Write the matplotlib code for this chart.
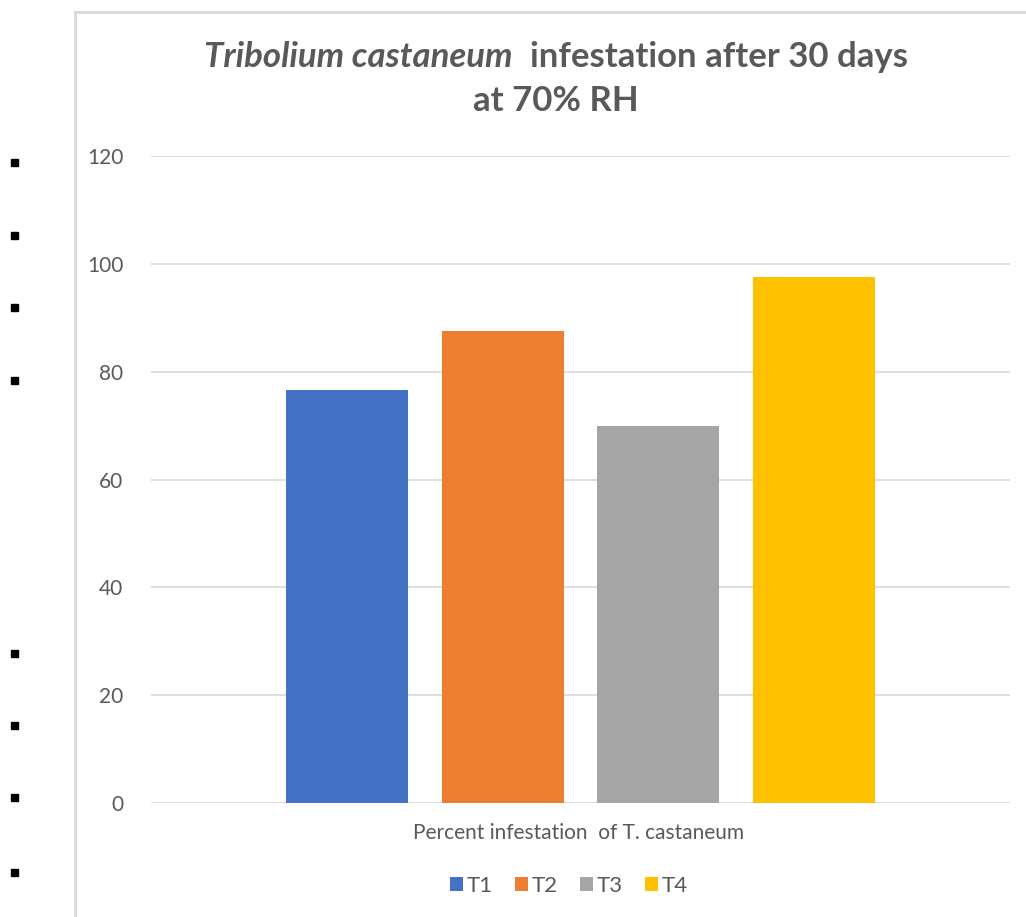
import matplotlib.pyplot as plt
from matplotlib.lines import Line2D
from matplotlib.patches import Rectangle

categories = ["Percent infestation  of T. castaneum"]
series = ["T1", "T2", "T3", "T4"]
values = [76.6, 87.6, 69.9, 97.5]
colors = ["#4472C4", "#ED7D31", "#A5A5A5", "#FFC000"]
yticks = [0, 20, 40, 60, 80, 100, 120]

W, H = 1026, 917
plt.rcParams['font.family'] = ['Lato', 'DejaVu Sans']
fig = plt.figure(figsize=(W / 100, H / 100), dpi=100)

ax = fig.add_axes([151 / W, 1 - 803 / H, (1010 - 151) / W, (803 - 156) / H])
x0 = 0
width = 0.202
for i, (s, v, c) in enumerate(zip(series, values, colors)):
    ax.bar(x0 + (i - 1.5) * 0.257, v, width=width, color=c, label=s, zorder=3)

ax.set_xlim(-0.71, 0.71)
ax.set_ylim(0, 120)
ax.set_yticks(yticks)
ax.set_yticklabels([str(t) for t in yticks], fontsize=15, color="#595959")
ax.tick_params(axis="y", length=0, pad=20)
ax.set_xticks([])
ax.grid(axis="y", color="#d9d9d9", linewidth=1.2, zorder=0)
for sp in ax.spines.values():
    sp.set_visible(False)

# category label under the bars
fig.text(579 / W, 1 - 833 / H, categories[0], ha="center", va="center",
         fontsize=15, color="#595959")

# legend
ax.legend(loc="center", bbox_to_anchor=(569 / W, 1 - 886 / H), bbox_transform=fig.transFigure,
          ncol=4, frameon=False, fontsize=16, handlelength=0.6, handleheight=0.6,
          handletextpad=0.15, columnspacing=1.0, labelcolor="#595959")

# title with italic species name
fig.canvas.draw()
r = fig.canvas.get_renderer()
t1 = fig.text(0, 1 - 57 / H, "Tribolium castaneum", style="italic", fontsize=25,
              weight="bold", color="#595959", va="center", ha="left")
t2 = fig.text(0, 1 - 57 / H, "  infestation after 30 days", fontsize=25,
              weight="bold", color="#595959", va="center", ha="left")
w1 = t1.get_window_extent(r).width
w2 = t2.get_window_extent(r).width
start = 556 - (w1 + w2) / 2
t1.set_x(start / W)
t2.set_x((start + w1) / W)
fig.text(556 / W, 1 - 101 / H, "at 70% RH", fontsize=25, weight="bold",
         color="#595959", ha="center", va="center")

# chart frame (left and top borders)
fig.add_artist(Line2D([75 / W, 75 / W], [0, 1 - 12 / H], color="#d9d9d9", lw=2,
                      transform=fig.transFigure))
fig.add_artist(Line2D([75 / W, 1], [1 - 12 / H, 1 - 12 / H], color="#d9d9d9", lw=2,
                      transform=fig.transFigure))

# bullet markers on the left margin
for yb in [162, 235, 307, 380, 653, 725, 797, 872]:
    fig.add_artist(Rectangle(((14 - 3.5) / W, 1 - (yb + 3.5) / H), 7 / W, 7 / H,
                             color="black", transform=fig.transFigure))

fig.savefig("out.png", dpi=100)
